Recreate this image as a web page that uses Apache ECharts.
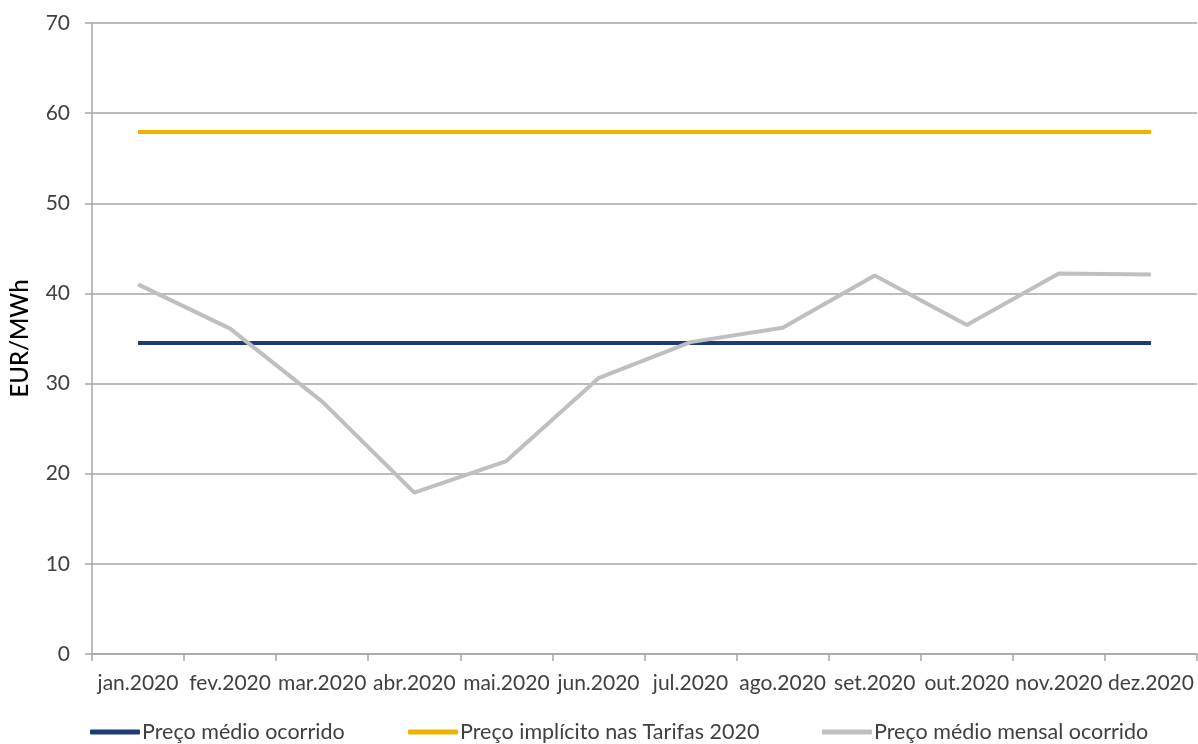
<!DOCTYPE html>
<html>
<head>
<meta charset="utf-8">
<script src="https://cdn.jsdelivr.net/npm/echarts@6/dist/echarts.min.js"></script>
<style>
  html, body { margin: 0; padding: 0; background: #fff; }
  #chart { width: 1198px; height: 744px; }
</style>
</head>
<body>
<div id="chart"></div>
<script>
// Monthly categories (2020)
const months = ['jan.2020', 'fev.2020', 'mar.2020', 'abr.2020', 'mai.2020', 'jun.2020',
                'jul.2020', 'ago.2020', 'set.2020', 'out.2020', 'nov.2020', 'dez.2020'];

// Series values, EUR/MWh
const precoMedio = [34.5, 34.5, 34.5, 34.5, 34.5, 34.5, 34.5, 34.5, 34.5, 34.5, 34.5, 34.5];
const precoTarifas = [57.9, 57.9, 57.9, 57.9, 57.9, 57.9, 57.9, 57.9, 57.9, 57.9, 57.9, 57.9];
const precoMensal = [41.0, 36.1, 28.0, 17.9, 21.4, 30.6, 34.6, 36.2, 42.0, 36.5, 42.2, 42.1];

// Series names (legend)
const seriesNames = ['Preço médio ocorrido', 'Preço implícito nas Tarifas 2020', 'Preço médio mensal ocorrido'];

const FONT = 'Lato';
const TEXT = '#404040';
const GRID = '#a6a6a6';

function legendAt(name, left) {
  return {
    data: [name],
    left: left,
    top: 721,
    icon: 'roundRect',
    itemWidth: 50,
    itemHeight: 5,
    itemGap: 2,
    textStyle: { fontFamily: FONT, fontSize: 21.5, color: TEXT, padding: [0, 0, 0, -3] },
    padding: 0
  };
}

const chart = echarts.init(document.getElementById('chart'), null, { renderer: 'canvas' });
chart.setOption({
  animation: false,
  backgroundColor: '#fff',
  grid: { left: 90, right: 1, top: 23, bottom: 90, containLabel: false },
  legend: [
    legendAt(seriesNames[0], 90),
    legendAt(seriesNames[1], 408),
    legendAt(seriesNames[2], 822)
  ],
  xAxis: {
    type: 'category',
    data: months,
    boundaryGap: true,
    axisLine: { lineStyle: { color: GRID, width: 1.5 } },
    axisTick: { show: true, length: 7, lineStyle: { color: GRID, width: 1.5 } },
    axisLabel: { fontFamily: FONT, fontSize: 21, color: TEXT, margin: 19, interval: 0 }
  },
  yAxis: {
    type: 'value',
    min: 0,
    max: 70,
    interval: 10,
    name: 'EUR/MWh',
    nameLocation: 'middle',
    nameGap: 60,
    nameTextStyle: { fontFamily: 'Lato', fontSize: 24, fontWeight: 500, color: '#000' },
    axisLine: { show: true, lineStyle: { color: GRID, width: 1.5 } },
    axisTick: { show: true, length: 7, lineStyle: { color: GRID, width: 1.5 } },
    axisLabel: { fontFamily: FONT, fontSize: 21, color: TEXT, margin: 22 },
    splitLine: { show: true, lineStyle: { color: GRID, width: 1.5 } }
  },
  series: [
    {
      name: seriesNames[0], type: 'line', data: precoMedio,
      showSymbol: false, symbol: 'none',
      lineStyle: { color: '#1f3a7a', width: 4 }, itemStyle: { color: '#1f3a7a' }
    },
    {
      name: seriesNames[1], type: 'line', data: precoTarifas,
      showSymbol: false, symbol: 'none',
      lineStyle: { color: '#eeb200', width: 4 }, itemStyle: { color: '#eeb200' }
    },
    {
      name: seriesNames[2], type: 'line', data: precoMensal,
      showSymbol: false, symbol: 'none',
      lineStyle: { color: '#bfbfbf', width: 4 }, itemStyle: { color: '#bfbfbf' }
    }
  ]
});
</script>
</body>
</html>
